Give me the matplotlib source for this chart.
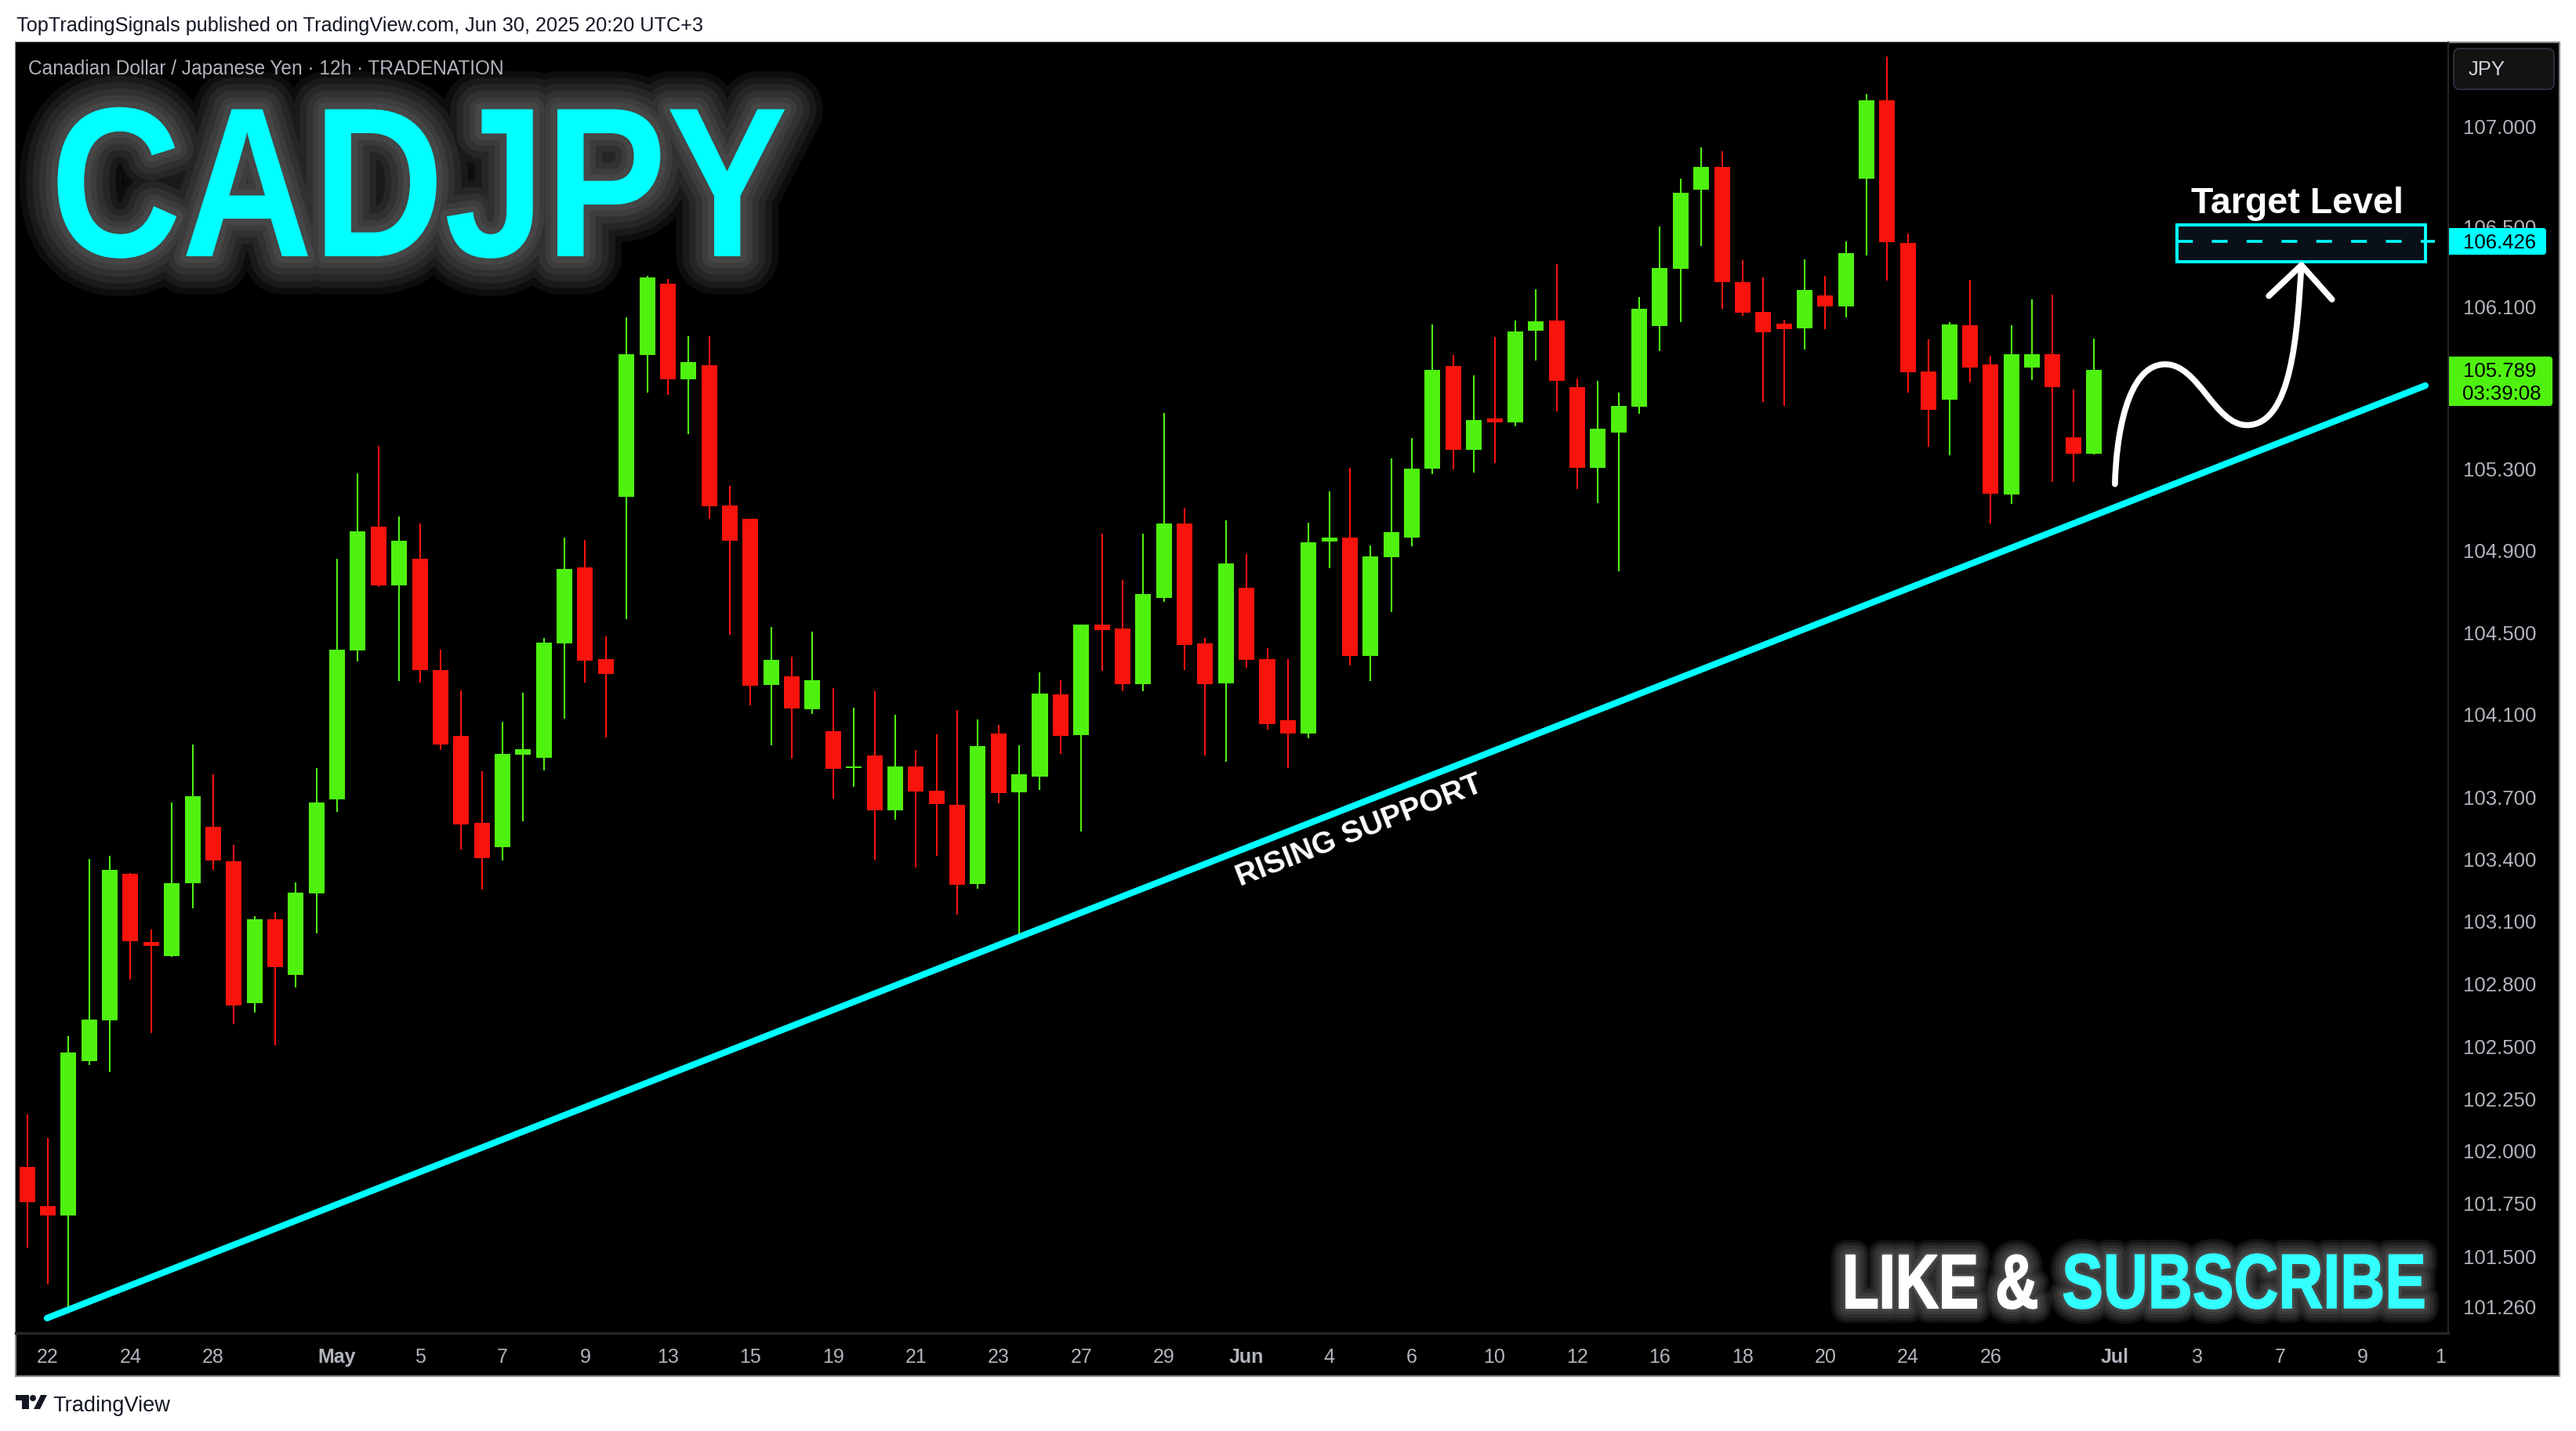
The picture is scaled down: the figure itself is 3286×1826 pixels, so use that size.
import numpy as np
import matplotlib
matplotlib.use('Agg')
import matplotlib.pyplot as plt
from matplotlib import patheffects as pe
from matplotlib.patches import Rectangle, FancyBboxPatch, PathPatch, Polygon, Circle
from matplotlib.path import Path
from matplotlib.transforms import Affine2D

W, H = 3286, 1826

## 12h candles
opens = [101.925,101.739,101.694,102.430,102.625,103.329,103.001,102.933,103.284,103.557,103.390,102.707,103.110,102.843,103.235,103.689,104.413,105.018,104.730,104.861,
         104.317,103.997,103.575,103.458,103.906,103.890,104.447,104.818,104.371,105.164,105.863,106.216,105.743,105.813,105.122,105.056,104.245,104.287,104.126,104.020,
         103.841,103.902,103.636,103.849,103.731,103.663,103.280,104.008,103.723,103.799,104.199,104.001,104.539,104.520,104.248,104.669,105.033,104.447,104.252,104.719,
         104.371,104.073,104.008,104.945,104.964,104.386,104.868,104.964,105.303,105.809,105.395,105.550,105.530,105.983,106.033,105.704,105.307,105.480,105.608,106.006,
         106.290,106.683,106.797,106.224,106.076,106.018,105.995,106.158,106.103,106.738,107.129,106.418,105.782,105.642,106.010,105.816,105.176,105.801,105.867,105.457,105.376]
highs = [102.175,102.063,102.550,103.401,103.416,103.333,103.061,103.674,103.955,103.811,103.469,103.125,103.144,103.288,103.841,104.861,105.280,105.414,105.068,105.033,
         104.416,104.218,103.826,104.066,104.206,104.474,104.964,104.953,104.481,106.049,106.255,106.239,105.956,105.956,105.218,105.056,104.527,104.382,104.504,104.229,
         104.134,104.214,104.100,103.929,104.005,104.123,104.077,104.050,103.951,104.306,104.268,104.539,104.983,104.757,104.983,105.577,105.110,104.474,105.049,104.884,
         104.424,104.371,105.037,105.191,105.307,104.926,105.353,105.453,106.014,105.863,105.762,105.952,106.033,106.189,106.313,105.747,105.735,105.677,106.150,106.500,
         106.738,106.894,106.875,106.333,106.247,106.037,106.336,106.255,106.426,107.161,107.349,106.465,105.940,106.026,106.235,105.859,106.010,106.138,106.162,105.693,105.944]
lows = [101.542,101.367,101.252,102.411,102.377,102.820,102.565,102.929,103.163,103.348,102.606,102.662,102.505,102.783,103.042,103.629,104.359,104.723,104.264,104.256,
        103.929,103.447,103.254,103.394,103.583,103.830,104.081,104.256,103.989,104.566,105.677,105.666,105.472,105.056,104.489,104.145,103.951,103.887,104.104,103.693,
        103.750,103.397,103.591,103.360,103.416,103.133,103.258,103.670,103.012,103.735,103.910,103.534,104.313,104.214,104.214,104.650,104.317,103.902,103.871,104.329,
        104.027,103.841,103.986,104.815,104.340,104.264,104.600,104.922,105.276,105.299,105.283,105.330,105.511,105.836,105.584,105.203,105.133,104.799,105.573,105.882,
        106.026,106.403,106.092,106.057,105.631,105.611,105.890,105.991,106.049,106.356,106.231,105.677,105.411,105.368,105.727,105.033,105.129,105.739,105.237,105.237,105.372]
closes = [101.757,101.694,102.471,102.629,103.348,103.005,102.982,103.284,103.704,103.394,102.696,103.110,102.880,103.239,103.674,104.416,104.995,104.730,104.949,104.317,
          103.955,103.568,103.405,103.910,103.932,104.451,104.811,104.363,104.298,105.867,106.247,105.743,105.828,105.118,104.949,104.241,104.367,104.130,104.268,103.837,
          103.849,103.636,103.849,103.727,103.666,103.277,103.948,103.720,103.811,104.203,103.997,104.539,104.512,104.248,104.688,105.033,104.439,104.248,104.838,104.367,
          104.054,104.008,104.941,104.964,104.386,104.872,104.991,105.303,105.789,105.395,105.542,105.530,105.979,106.030,105.735,105.307,105.499,105.611,106.092,106.294,
          106.668,106.797,106.224,106.072,105.975,105.991,106.185,106.103,106.368,107.129,106.422,105.778,105.592,106.014,105.801,105.179,105.867,105.867,105.704,105.376,105.789]

## Axis ticks
tick_bars = [1,5,9,15,19,23,27,31,35,39,43,47,51,55,59,63,67,71,75,79,83,87,91,95,101,105,109,113,116.75]
tick_labels = ['22','24','28','May','5','7','9','13','15','19','21','23','27','29','Jun','4','6','10','12','16','18','20','24','26','Jul','3','7','9','1']
price_ticks = [107.0,106.5,106.1,105.3,104.9,104.5,104.1,103.7,103.4,103.1,102.8,102.5,102.25,102.0,101.75,101.5,101.26]

## Drawings on the chart
support_bars = [0.963, 116.036]
support_prices = [101.208, 105.712]
target_bars = [104.013, 116.036]
target_prices = [106.325, 106.509]
target_line_bars = [104.013, 116.491]
target_level = 106.426
last_price = 105.789
## bezier control points of the hand drawn path
curve_bars = [101.015,101.065,101.567,103.446,105.075,105.827,107.405,109.586,109.836,110.037]
curve_prices = [105.227,105.448,105.817,105.817,105.817,105.517,105.517,105.517,105.977,106.308]
head_bars = [108.458,110.037,111.515]
head_prices = [106.155,106.308,106.138]

GREEN = '#4FF20F'
RED = '#F8130C'
CYAN = '#00FFFF'
GREY = '#B2B5BE'
DARK = '#131722'

plt.rcParams['font.family'] = ['Liberation Sans', 'DejaVu Sans']

class Stretch(pe.AbstractPathEffect):
    ## the banner font is condensed, so stretch the glyphs upward from the baseline
    def __init__(self, sy, effects):
        super().__init__()
        self.sy = sy
        self.effects = effects

    def draw_path(self, renderer, gc, tpath, affine, rgbFace=None):
        aff = Affine2D().scale(1, self.sy) + affine
        for e in self.effects:
            e.draw_path(renderer, gc, tpath, aff, rgbFace)

def glow(widths, a, sy, fat=0, color='white'):
    effects = [pe.Stroke(linewidth=w, foreground='white', alpha=a) for w in widths]
    if fat:
        effects.append(pe.Stroke(linewidth=fat, foreground=color))
    effects.append(pe.Normal())
    return [Stretch(sy, effects)]

fig = plt.figure(figsize=(W/100, H/100), dpi=100, facecolor='white')
## pixel coordinates of the picture, from the top left
px = Affine2D().scale(1/W, -1/H).translate(0, 1) + fig.transFigure

fig.add_artist(Rectangle((20, 54), 3245, 1702, transform=px, fc='black', ec='#8a8a8a', lw=1.5, zorder=-1))

ax = fig.add_axes([20/W, 1-1701/H, 3103/W, 1647/H], facecolor='black', zorder=0)
ax.set_yscale('log')

x = np.arange(len(opens))
o = np.array(opens)
c = np.array(closes)
colors = [GREEN if u else RED for u in c >= o]
ax.vlines(x, lows, highs, colors=colors, lw=1.5, zorder=3)
ax.bar(x, np.abs(c-o), bottom=np.minimum(o, c), width=0.76, color=colors, lw=0, zorder=4)

ax.set_xlim(-0.554, 117.14)
ax.set_ylim(101.1375, 107.4198)

ax.plot(support_bars, support_prices, color=CYAN, lw=6, solid_capstyle='round', zorder=5)
ax.add_patch(Rectangle((target_bars[0], target_prices[0]), target_bars[1]-target_bars[0], target_prices[1]-target_prices[0],
                       fc='#0A1018', ec=CYAN, lw=2.9, zorder=2))
ax.plot(target_line_bars, [target_level, target_level], color=CYAN, lw=2.6, dashes=(5.6, 6.7), dash_capstyle='butt', zorder=3, clip_on=False)

verts = list(zip(curve_bars, curve_prices))
ax.add_patch(PathPatch(Path(verts, [Path.MOVETO]+[Path.CURVE4]*9), fc='none', ec='white', lw=5.5, capstyle='round', zorder=6))
ax.plot(head_bars, head_prices, color='white', lw=5.5, solid_capstyle='round', solid_joinstyle='round', zorder=6)

ax.yaxis.tick_right()
ax.set_yticks(price_ticks, ['%.3f' % p for p in price_ticks])
ax.set_yticks([], minor=True)
ax.tick_params(axis='y', which='both', length=0, pad=13.5, colors=GREY, labelsize=18.5)
ax.set_xticks(tick_bars, tick_labels)
ax.tick_params(axis='x', length=0, pad=14, colors=GREY, labelsize=18)
for lab in ax.get_xticklabels():
    if lab.get_text() in ('May', 'Jun', 'Jul'):
        lab.set_fontweight('bold')
for s in ('top', 'left'):
    ax.spines[s].set_visible(False)
ax.spines['right'].set_color('#262626')
ax.spines['right'].set_linewidth(1.5)
ax.spines['bottom'].set_color('#262626')
ax.spines['bottom'].set_linewidth(2.5)

## Banner texts
fig.text(64, 327, 'CADJPY', transform=px, color=CYAN, fontsize=167, fontweight='bold', va='baseline', zorder=2,
         path_effects=glow([70, 58, 46, 34, 22, 12], 0.055, 1.175))
fig.text(2350, 1669, 'LIKE &', transform=px, color='white', fontsize=55, fontweight='bold', va='baseline', zorder=2,
         path_effects=glow([28, 23, 18, 12, 6], 0.065, 1.28, fat=1.5))
fig.text(3095, 1669, 'SUBSCRIBE', transform=px, color='#33FFFF', fontsize=56.8, fontweight='bold', va='baseline', ha='right', zorder=2,
         path_effects=glow([28, 23, 18, 12, 6], 0.065, 1.25, fat=1.2, color='#33FFFF'))

fig.text(2930, 272, 'Target Level', transform=px, color='white', fontsize=33.5, fontweight='bold', ha='center', va='baseline', zorder=2)
fig.text(21, 40, 'TopTradingSignals published on TradingView.com, Jun 30, 2025 20:20 UTC+3', transform=px, color=DARK, fontsize=18.2, va='baseline', zorder=2)
fig.text(36, 95, 'Canadian Dollar / Japanese Yen · 12h · TRADENATION', transform=px, color=GREY, fontsize=17.65, va='baseline', zorder=2)
fig.text(1734, 1061, 'RISING SUPPORT', transform=px, color='white', fontsize=28.2, fontweight='bold', ha='center', va='center', rotation=21.4, rotation_mode='anchor', zorder=2)
fig.text(67, 1801, 'TradingView', transform=px, color=DARK, fontsize=19.6, va='baseline', zorder=2)

## Price scale tags
fig.add_artist(FancyBboxPatch((3133, 65), 122, 46, boxstyle='round,pad=3,rounding_size=8', transform=px, fc='#131313', ec='#2A2E39', lw=1.5, zorder=2))
fig.text(3149, 96, 'JPY', transform=px, color='#D1D4DC', fontsize=18.5, va='baseline', zorder=3)

fig.add_artist(FancyBboxPatch((3124, 291), 124, 34, boxstyle='round,pad=0,rounding_size=4', transform=px, fc=CYAN, lw=0, zorder=2))
fig.add_artist(Rectangle((3124, 291), 60, 34, transform=px, fc=CYAN, lw=0, zorder=2))
fig.text(3142, 317, '%.3f' % target_level, transform=px, color='black', fontsize=18.5, va='baseline', zorder=3)

fig.add_artist(FancyBboxPatch((3124, 455), 132, 63, boxstyle='round,pad=0,rounding_size=4', transform=px, fc=GREEN, lw=0, zorder=2))
fig.add_artist(Rectangle((3124, 455), 60, 63, transform=px, fc=GREEN, lw=0, zorder=2))
fig.text(3142, 481, '%.3f' % last_price, transform=px, color='black', fontsize=18.5, va='baseline', zorder=3)
fig.text(3141, 510, '03:39:08', transform=px, color='black', fontsize=18.5, va='baseline', zorder=3)

## TradingView logo
fig.add_artist(Polygon([(20,1780),(37,1780),(37,1798),(28,1798),(28,1787),(20,1787)], transform=px, fc=DARK, lw=0, zorder=2))
fig.add_artist(Circle((42,1784), 4, transform=px, fc=DARK, lw=0, zorder=2))
fig.add_artist(Polygon([(52,1780),(60,1780),(51,1798),(43,1798)], transform=px, fc=DARK, lw=0, zorder=2))

fig.savefig('out.png', dpi=100, facecolor='white')
